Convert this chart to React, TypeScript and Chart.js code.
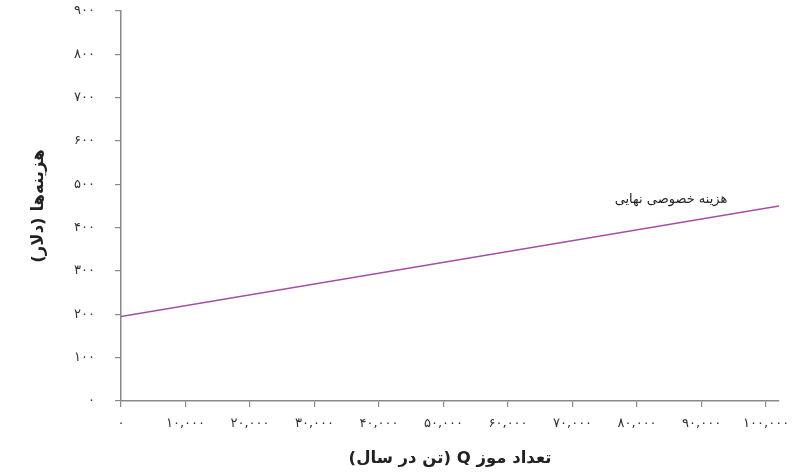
import React, { useEffect, useRef } from "react";
import { Chart, registerables } from "chart.js";

Chart.register(...registerables);

const quantities = [0, 102000];
const marginalPrivateCost = [195, 450];
const xTicks = [0, 10000, 20000, 30000, 40000, 50000, 60000, 70000, 80000, 90000, 100000];
const yTicks = [0, 100, 200, 300, 400, 500, 600, 700, 800, 900];
const seriesLabel = "هزینه خصوصی نهایی";
const labelAnchor = { x: 94000, y: 465 };
const xTitle = "تعداد موز Q (تن در سال)";
const yTitle = "هزینه‌ها (دلار)";

const FONT = "'DejaVu Sans', sans-serif";

function toPersian(n: number, sep: boolean): string {
  const digits = "۰۱۲۳۴۵۶۷۸۹";
  let s = String(n);
  if (sep) s = s.replace(/\B(?=(\d{3})+(?!\d))/g, ",");
  return s.replace(/\d/g, (d) => digits[+d]);
}

export default function App() {
  const ref = useRef<HTMLCanvasElement>(null);
  useEffect(() => {
    document.body.style.margin = "0";
    const labelPlugin = {
      id: "lineLabel",
      afterDatasetsDraw(chart: any) {
        const { ctx, scales } = chart;
        const px = scales.x.getPixelForValue(labelAnchor.x);
        const py = scales.y.getPixelForValue(labelAnchor.y);
        ctx.save();
        ctx.font = `13px ${FONT}`;
        ctx.fillStyle = "#222";
        ctx.textAlign = "right";
        ctx.textBaseline = "middle";
        ctx.fillText(seriesLabel, px, py);
        ctx.restore();
      },
    };
    const chart = new Chart(ref.current!, {
      type: "line",
      data: {
        datasets: [
          {
            label: seriesLabel,
            data: quantities.map((q, i) => ({ x: q, y: marginalPrivateCost[i] })),
            borderColor: "#a64ca6",
            borderWidth: 1.5,
            pointRadius: 0,
            fill: false,
          },
        ],
      },
      options: {
        animation: false,
        responsive: false,
        layout: { padding: { top: 11, right: 31, left: 0, bottom: 0 } },
        plugins: { legend: { display: false }, tooltip: { enabled: false } },
        scales: {
          x: {
            type: "linear",
            min: 0,
            max: 102000,
            afterBuildTicks: (s: any) => {
              s.ticks = xTicks.map((v) => ({ value: v }));
            },
            afterFit: (s: any) => {
              s.height = 72;
              s.paddingLeft = 0;
              s.paddingRight = 0;
            },
            border: { color: "#888", width: 1.5 },
            grid: { drawOnChartArea: false, drawTicks: true, tickLength: 6, color: "#888", lineWidth: 1.2 },
            ticks: {
              padding: 9,
              maxRotation: 0,
              autoSkip: false,
              color: "#333",
              font: { family: FONT, size: 13 },
              callback: (v: any) => toPersian(Number(v), true),
            },
            title: {
              display: true,
              text: xTitle,
              color: "#222",
              font: { family: FONT, size: 16.5, weight: "bold" },
              padding: { top: 5 },
            },
          },
          y: {
            min: 0,
            max: 900,
            afterBuildTicks: (s: any) => {
              s.ticks = yTicks.map((v) => ({ value: v }));
            },
            afterFit: (s: any) => {
              s.width = 121;
              s.paddingTop = 0;
              s.paddingBottom = 0;
            },
            border: { color: "#888", width: 1.5 },
            grid: { drawOnChartArea: false, drawTicks: true, tickLength: 6, color: "#888", lineWidth: 1.2 },
            ticks: {
              padding: 20,
              color: "#333",
              font: { family: FONT, size: 13 },
              callback: (v: any) => toPersian(Number(v), false),
            },
            title: {
              display: true,
              text: yTitle,
              color: "#222",
              font: { family: FONT, size: 16.5, weight: "bold" },
              padding: { top: 29, bottom: 0 },
            },
          },
        },
      },
      plugins: [labelPlugin],
    });
    return () => chart.destroy();
  }, []);
  return (
    <div style={{ width: 810, height: 473 }}>
      <canvas ref={ref} dir="rtl" width={810} height={473} style={{ width: 810, height: 473, direction: "rtl" }} />
    </div>
  );
}
